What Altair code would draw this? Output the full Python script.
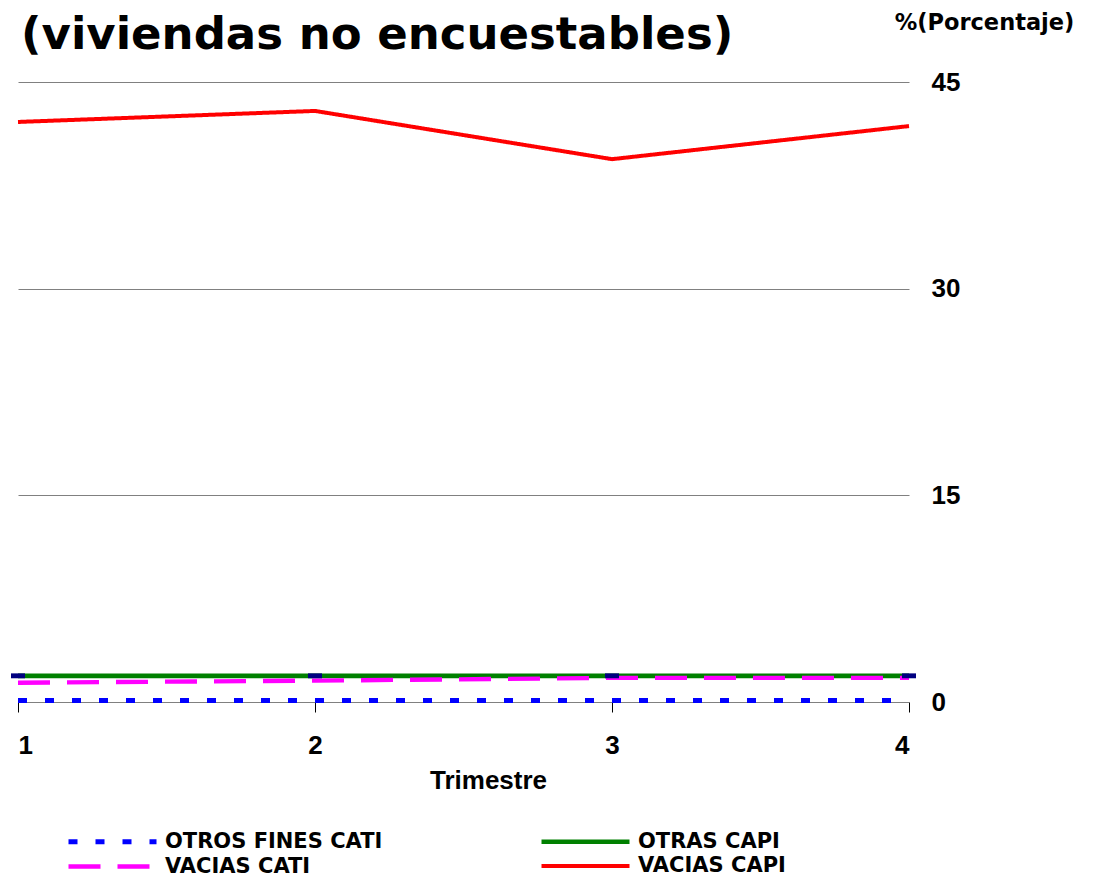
import altair as alt
import pandas as pd

trimestre = [1, 2, 3, 4]
otros_fines_cati = [0.1, 0.1, 0.1, 0.1]
vacias_cati = [1.4, 1.55, 1.75, 1.75]
otras_capi = [1.9, 1.9, 1.9, 1.9]
vacias_capi = [42.1, 42.9, 39.4, 41.8]

series_names = ["OTROS FINES CATI", "OTRAS CAPI", "VACIAS CATI", "VACIAS CAPI"]
series_values = {
    "OTROS FINES CATI": otros_fines_cati,
    "OTRAS CAPI": otras_capi,
    "VACIAS CATI": vacias_cati,
    "VACIAS CAPI": vacias_capi,
}
colors = ["#0000FF", "#008000", "#FF00FF", "#FF0000"]
dashes = [[9, 18], [1, 0], [32, 17], [1, 0]]
widths = [5, 4, 5, 4]

rows = []
for s in series_names:
    for t, v in zip(trimestre, series_values[s]):
        rows.append({"trimestre": t, "valor": v, "serie": s})
df = pd.DataFrame(rows)

FONT = "Liberation Sans"
WIDE = "DejaVu Sans"

x_enc = alt.X("trimestre:Q",
              scale=alt.Scale(domain=[1, 4], nice=False, zero=False),
              axis=alt.Axis(values=trimestre, format="d", title="Trimestre",
                            grid=False, domainColor="#808080", domainWidth=1,
                            tickColor="#000000", tickSize=10, tickWidth=1,
                            labelFont=FONT, labelFontSize=26, labelFontWeight="bold",
                            labelColor="#000000", labelPadding=20,
                            titleFont=FONT, titleFontSize=26, titleFontWeight="bold",
                            titleColor="#000000", titleX=470, titleY=78,
                            titleAlign="center", titleBaseline="middle"))
y_enc = alt.Y("valor:Q",
              scale=alt.Scale(domain=[0, 45], nice=False),
              axis=alt.Axis(orient="right", values=[0, 15, 30, 45], grid=True,
                            gridColor="#808080", gridWidth=1, domain=False, ticks=False,
                            labelFont=FONT, labelFontSize=26, labelFontWeight="bold",
                            labelColor="#000000", labelPadding=22, labelAlign="left",
                            title="%(Porcentaje)", titleAngle=0, titleX=75, titleY=-60,
                            titleAlign="center", titleBaseline="middle",
                            titleFont=WIDE, titleFontSize=22.5, titleFontWeight="bold",
                            titleColor="#000000"))

lines = alt.Chart(df).mark_line(clip=False).encode(
    x=x_enc,
    y=y_enc,
    color=alt.Color("serie:N", scale=alt.Scale(domain=series_names, range=colors), title=None),
    strokeDash=alt.StrokeDash("serie:N", scale=alt.Scale(domain=series_names, range=dashes), title=None),
    strokeWidth=alt.StrokeWidth("serie:N", scale=alt.Scale(domain=series_names, range=widths), title=None),
    order=alt.Order("trimestre:Q"),
)

markers = alt.Chart(df[df["serie"] == "OTRAS CAPI"]).mark_point(
    shape="M-1,-0.35L1,-0.35L1,0.35L-1,0.35Z", filled=True, size=196,
    color="#000080", opacity=1
).encode(x="trimestre:Q", y="valor:Q")

title_df = pd.DataFrame({"t": ["(viviendas no encuestables)"]})
title = alt.Chart(title_df).mark_text(
    font=WIDE, fontSize=45, fontWeight="bold", align="left", baseline="alphabetic",
    color="#000000"
).encode(text="t:N", x=alt.value(3), y=alt.value(-33))

chart = alt.layer(lines, markers, title).properties(
    width=891, height=620,
    autosize=alt.AutoSizeParams(type="none"),
    padding={"left": 10, "top": 74, "right": 177, "bottom": 176},
).configure_view(stroke=None).configure_legend(
    orient="none", legendX=37, legendY=746, columns=2, direction="horizontal",
    symbolType="M0,0H8",
    symbolSize=484, labelFont=WIDE, labelFontSize=21, labelFontWeight="bold",
    labelColor="#000000", labelOffset=83, rowPadding=1, columnPadding=145,
    labelLimit=400, symbolOpacity=1
)

chart.save("out.html", embed_options={"renderer": "svg", "actions": False})
